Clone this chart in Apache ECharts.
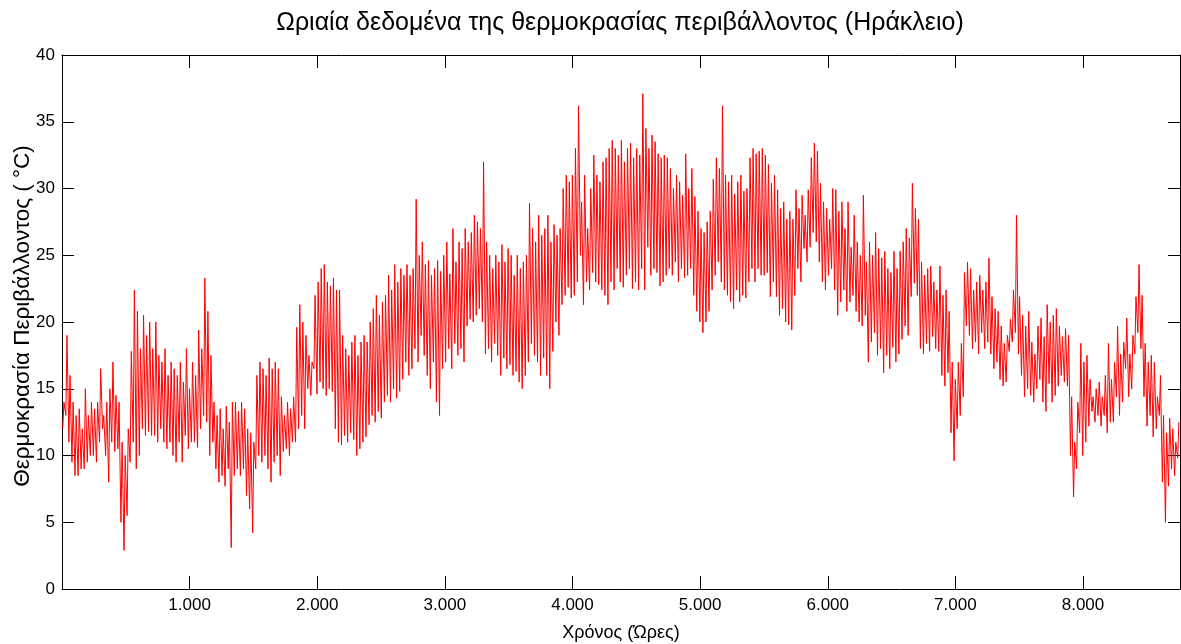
<!DOCTYPE html>
<html>
<head>
<meta charset="utf-8">
<script src="https://cdn.jsdelivr.net/npm/echarts@6/dist/echarts.min.js"></script>
<style>
  html, body { margin: 0; padding: 0; background: #fff; }
  #chart { width: 1181px; height: 644px; }
</style>
</head>
<body>
<div id="chart"></div>
<script>
// Daily extremes of the hourly ambient temperature, °C (day 0 = 1 January)
const dailyMax = [
  14, 19, 16, 14, 13, 13.5, 12, 15, 13, 14,
  13.5, 14, 16.5, 13, 14, 15, 17, 14.5, 14, 11,
  10, 12, 17.8, 22.4, 20.8, 18, 20.5, 19, 20, 18,
  20, 17.5, 17, 18, 16, 17, 16.5, 16, 17, 15.5,
  18, 15, 17, 16, 19.4, 18, 23.3, 20.8, 17.5, 14,
  13, 13.5, 12, 13.7, 12.5, 14, 14, 13.3, 14, 13.5,
  12, 11.7, 11, 16, 17, 16.5, 16, 17.3, 16.5, 17,
  16.5, 14.4, 13, 14, 13.5, 14.4, 19.6, 21.3, 20, 19,
  17.5, 17, 22, 23, 24, 24.3, 23, 22.7, 23.3, 22.4,
  22.4, 19, 18, 17.5, 18.5, 19, 17.5, 18.5, 19, 18.5,
  20, 21, 22, 20.5, 21.5, 22, 23.5, 22.4, 24.3, 23,
  24, 23.5, 24.3, 23.5, 24, 29.2, 25, 26, 24.3, 24.6,
  23.5, 24, 24.6, 23.8, 25, 26, 23.6, 27, 24.5, 26,
  25.5, 27, 26, 26.7, 28, 27.5, 27, 32, 26, 25,
  24, 25, 24.5, 25.8, 24.5, 25.5, 25, 23.5, 25, 24,
  24.5, 25, 28.9, 27, 26, 28, 26.5, 27, 28, 26,
  27.3, 26.5, 27, 30, 31, 30.5, 31, 33, 36.2, 29,
  31, 27, 30, 32.5, 31, 30.5, 32, 32.3, 33, 33.6,
  33, 32.5, 33.6, 32, 33, 33.4, 32.3, 33, 32.5, 37.1,
  34.5, 33, 34, 33.5, 32.6, 32.3, 32.5, 32.3, 31.5, 30,
  31, 30.5, 29.5, 32.6, 30, 31.5, 29.4, 28.3, 27, 26.7,
  27.5, 28.3, 30.7, 32.3, 31.5, 36.2, 31, 30.5, 31, 29.6,
  30.5, 31, 29.8, 30, 32.3, 33, 32.6, 32.8, 33, 32.5,
  31.8, 30.4, 31, 29.9, 28.5, 29, 27.7, 28.3, 27.7, 29.9,
  28.5, 29.5, 28, 29.9, 32.3, 33.4, 32.8, 30.4, 29, 28.5,
  27.7, 30, 29.9, 28.3, 29, 27, 29, 25.6, 28, 26,
  25, 29.5, 24.5, 26, 25, 26.7, 25.5, 24.8, 25.3, 24,
  23.7, 25.3, 24, 25.3, 26, 27, 26.3, 30.4, 28.5, 27.7,
  24.5, 23.5, 24, 24.2, 23, 22.4, 24.2, 22, 22.4, 20.8,
  17, 15.7, 17, 18.4, 23.7, 24.5, 24, 22.4, 23, 23.5,
  22.4, 23, 24.8, 21.9, 21, 20.8, 19.7, 18.4, 19, 20.2,
  22.4, 28, 21.9, 20.5, 19.7, 20.8, 18.5, 17.6, 19.7, 20.3,
  18.9, 21.3, 20, 20.5, 21, 19.7, 18.9, 19.5, 19, 14.4,
  11, 14, 18.4, 17, 17.5, 15.7, 14.4, 15, 15.5, 14.4,
  16, 18.4, 15.7, 17, 19.7, 17.6, 18.5, 20.3, 17.6, 19,
  21.9, 24.3, 22, 18.4, 17, 17.5, 17, 14.4, 16, 13,
  11.7, 12.8, 12, 11, 12.5
];
const dailyMin = [
  12, 13, 11, 9.5, 8.5, 8.5, 9, 9, 9.5, 10,
  10, 9.5, 11, 12, 10, 8, 11, 10.3, 10.5, 5,
  2.9, 5.5, 9.5, 11, 9, 10, 12, 11.5, 11.8, 11.5,
  11.5, 11, 12, 11, 10.5, 11, 10, 9.5, 11, 9.5,
  11.5, 10.5, 11, 11, 10.6, 12, 13, 12.5, 10, 11,
  9, 8, 8.5, 7.7, 9, 3.1, 8.5, 9, 8.5, 9,
  7, 6, 4.2, 9, 10, 9.5, 10, 9, 8, 9.5,
  10, 8.5, 10.3, 10.5, 10, 11, 11, 12, 13, 12,
  15, 14.5, 16.5, 14.6, 15.5, 15, 14.5, 15, 14.8, 12,
  11, 10.8, 11.5, 11, 11.7, 11.2, 10, 10.5, 11, 11.4,
  12.3, 13, 12.5, 13.3, 12.8, 14, 14.5, 14, 15, 14.3,
  14.8, 15.7, 17, 16, 16.5, 18, 17, 19, 17.5, 16,
  15, 17, 14, 13, 16.5, 17, 18, 16.5, 18.4, 17.5,
  18, 17, 19.7, 20.2, 20, 20.5, 21, 20, 17.6, 18,
  17, 18.4, 17.5, 16, 17.3, 16.5, 16.8, 16, 16.3, 15.5,
  15, 16, 17, 18.4, 17.5, 17, 16, 17.3, 16, 15,
  17.8, 20, 19, 21.3, 22, 22.6, 21.8, 22, 23, 25,
  21.3, 23, 22.4, 23.7, 23, 22.8, 22.4, 22, 21.3, 23,
  22.4, 24, 23, 22.6, 23.5, 24, 22.5, 23, 22.4, 24,
  22.4, 25.6, 23.5, 24, 23.7, 22.7, 23, 23.5, 24, 23.5,
  24.5, 23, 24, 23.3, 23.5, 24, 22, 20.8, 20, 19.2,
  20, 20.8, 22.4, 23.5, 24.5, 23, 22.4, 22, 21.5, 21,
  22.4, 21.5, 22, 21.8, 23, 24, 23, 24, 23.5, 23.5,
  23.7, 21.9, 23, 21.9, 20.5, 21, 20, 19.8, 19.4, 22,
  24, 23, 25.5, 24.5, 25.6, 26.7, 26, 24.5, 23, 22.4,
  23.5, 24, 22.4, 20.5, 21.5, 22.4, 20.8, 21.5, 22, 20.8,
  20, 19.7, 20.5, 17, 18.5, 19.2, 17.5, 18, 16.2, 17.5,
  16.5, 18.1, 17, 17.6, 18.7, 19.7, 19, 21.9, 22.9, 22,
  18, 17.6, 18.4, 17.8, 18.9, 18, 17.8, 16, 15.2, 16.2,
  11.7, 9.6, 12, 13, 14.4, 19.7, 19, 18, 18.5, 17.6,
  19.2, 18, 18.5, 17.6, 16.5, 17, 15.7, 15.2, 15.5, 17.8,
  18.5, 19.2, 17.6, 16, 14.4, 15, 14.5, 14, 15, 15.7,
  14, 13.3, 15.4, 14, 14.5, 15.2, 16, 15.5, 15.2, 10,
  6.9, 9, 11.7, 10, 11, 12.2, 13.3, 12.5, 13, 12.2,
  13, 11.7, 12.5, 12.5, 14.4, 13, 14, 16.5, 14.4, 15,
  17.6, 19.2, 18, 14.4, 12.2, 13, 11.4, 12, 13, 8,
  5, 7.7, 9, 8.5, 9.8
];
// Hour of the day at which the daily minimum and maximum occur
const minHour = 6;
const maxHour = 15;
// Axis ticks
const xTicks = [1000, 2000, 3000, 4000, 5000, 6000, 7000, 8000];
const yTicks = [0, 5, 10, 15, 20, 25, 30, 35, 40];

const titleText = 'Ωριαία δεδομένα της θερμοκρασίας περιβάλλοντος (Ηράκλειο)';
const xName = 'Χρόνος (Ώρες)';
const yName = 'Θερμοκρασία Περιβάλλοντος ( °C)';

// Build the hourly trace: one trough and one peak per day
const trace = [];
for (let d = 0; d < dailyMax.length; d++) {
  trace.push([24 * d + minHour, dailyMin[d]]);
  trace.push([24 * d + maxHour, dailyMax[d]]);
}

const FONT = 'Liberation Sans, Arial, sans-serif';
const fmtThousands = v => {
  if (!xTicks.includes(v)) return '';
  return String(v).replace(/\B(?=(\d{3})+(?!\d))/g, '.');
};

const chart = echarts.init(document.getElementById('chart'), null, { renderer: 'canvas' });
const axisLineStyle = { color: '#000', width: 1 };

// Box axes: ticks point inward on all four sides
function boxAxis(extra) {
  return Object.assign({
    type: 'value',
    axisLine: { show: true, onZero: false, lineStyle: axisLineStyle },
    axisTick: { show: true, inside: true, length: 12, lineStyle: axisLineStyle },
    axisLabel: { show: false },
    splitLine: { show: false }
  }, extra);
}

chart.setOption({
  animation: false,
  backgroundColor: '#fff',
  title: {
    text: titleText,
    left: 615,
    top: 6,
    textAlign: 'center',
    textStyle: { fontFamily: FONT, fontSize: 25, fontWeight: 'normal', color: '#000' }
  },
  grid: { left: 62, right: 1, top: 55, bottom: 55, containLabel: false, outerBoundsMode: 'none' },
  // Vertical axis title, reading bottom to top beside the temperature scale
  graphic: [{
    type: 'text',
    x: 23,
    y: 316,
    rotation: Math.PI / 2,
    style: {
      text: yName,
      fill: '#000',
      font: '22.5px ' + FONT,
      align: 'center',
      verticalAlign: 'middle'
    },
    silent: true
  }],
  xAxis: [
    boxAxis({
      position: 'bottom', min: 0, max: 8760, interval: 1000,
      name: xName, nameLocation: 'middle', nameGap: 35,
      nameTextStyle: { fontFamily: FONT, fontSize: 18, color: '#000' },
      axisTick: { show: true, inside: true, length: 13, lineStyle: axisLineStyle },
      axisLabel: { show: true, showMinLabel: false, showMaxLabel: false, margin: 8,
        fontFamily: FONT, fontSize: 17, color: '#000', formatter: fmtThousands }
    }),
    boxAxis({
      position: 'top', min: 0, max: 8760, interval: 1000,
      axisTick: { show: true, inside: true, length: 13, lineStyle: axisLineStyle }
    })
  ],
  yAxis: [
    boxAxis({
      position: 'left', min: yTicks[0], max: yTicks[yTicks.length - 1], interval: 5,
      axisLabel: { show: true, margin: 7, fontFamily: FONT, fontSize: 17, color: '#000' }
    }),
    boxAxis({
      position: 'right', min: yTicks[0], max: yTicks[yTicks.length - 1], interval: 5
    })
  ],
  series: [{
    type: 'line',
    xAxisIndex: 0,
    yAxisIndex: 0,
    data: trace,
    showSymbol: false,
    symbol: 'none',
    sampling: null,
    lineStyle: { color: '#ff0000', width: 1 },
    emphasis: { disabled: true }
  }]
});
</script>
</body>
</html>
